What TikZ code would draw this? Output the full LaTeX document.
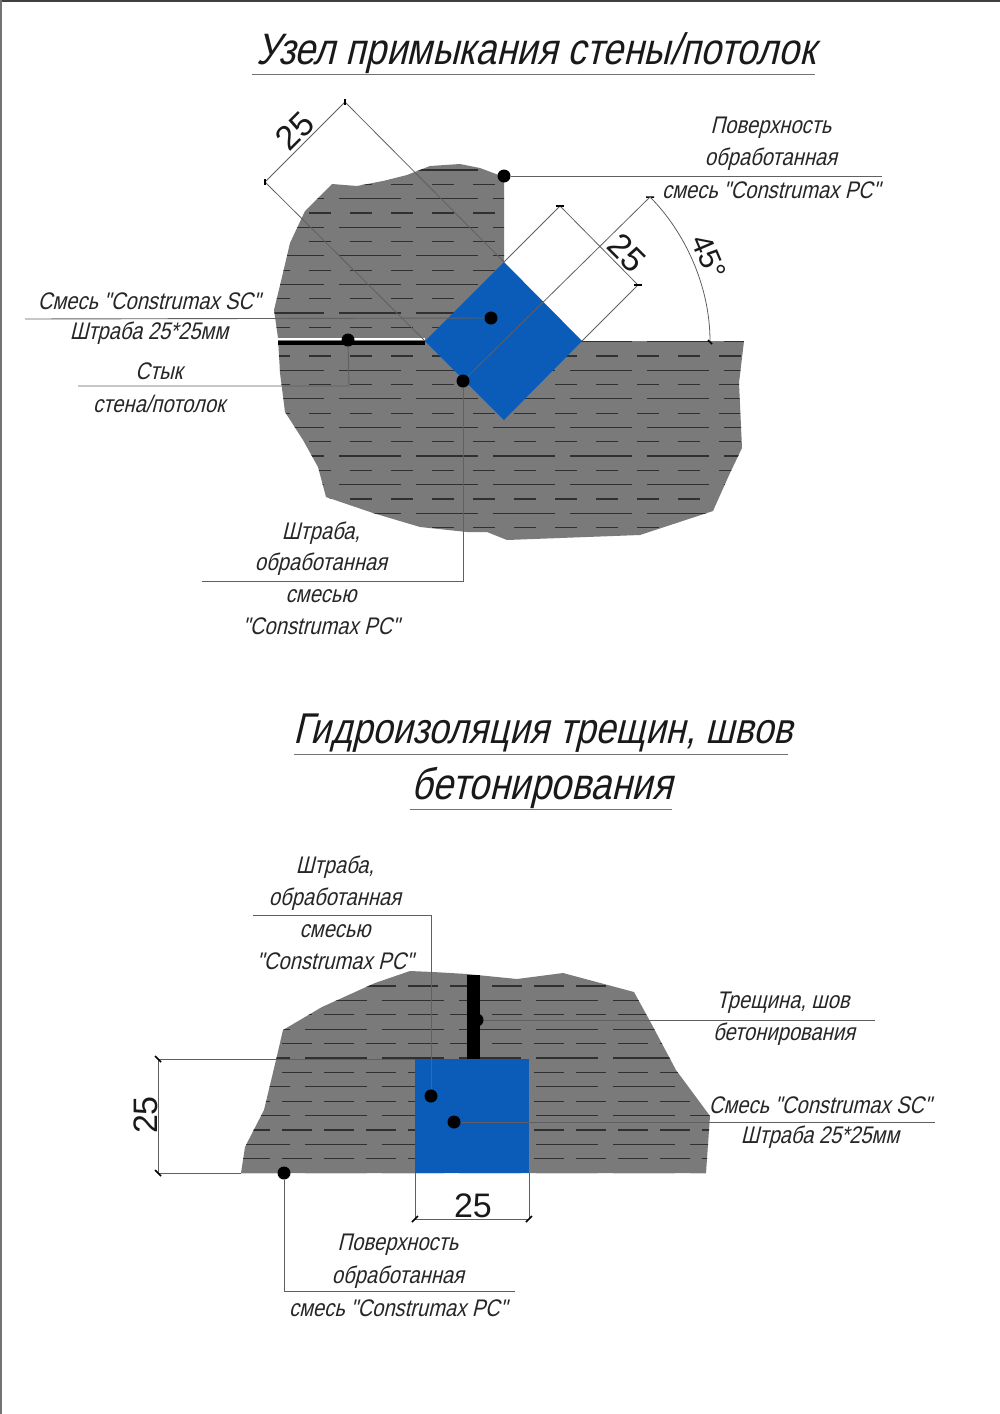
\documentclass[tikz,border=0pt]{standalone}
\usepackage{fontspec}
\newfontfamily\dr[FakeStretch=0.84,FakeSlant=0.24]{Liberation Sans}
\newfontfamily\dimfont{Liberation Sans}
\definecolor{concrete}{HTML}{7A7A7A}
\definecolor{fillblue}{HTML}{0A5CB8}
\definecolor{hatch}{HTML}{303030}
\definecolor{lead}{HTML}{606060}
\tikzset{
  lbl/.style={inner sep=0pt,font=\dr\fontsize{24}{24}\selectfont,text=black!85},
  ttl/.style={inner sep=0pt,font=\dr\fontsize{44}{44}\selectfont,text=black!90},
  dimtxt/.style={inner sep=0pt,font=\dimfont\fontsize{34}{34}\selectfont,text=black!90},
  dot/.style={circle,fill=black,inner sep=0pt,minimum size=13pt},
  leader/.style={draw=lead,line width=0.9pt},
  dimline/.style={draw=lead,line width=0.8pt},
  tick/.style={draw=black,line width=1.5pt},
  rule/.style={draw=black!55,line width=0.8pt},
  longrow/.style={draw=hatch,line width=1.2pt,dash pattern=on 62pt off 15pt},
  shortrow/.style={draw=hatch,line width=1.2pt,dash pattern=on 22pt off 19pt},
}
\begin{document}
\begin{tikzpicture}[x=1pt,y=-1pt]
\useasboundingbox (0,0) rectangle (1000,1414);
\fill[black!75] (0,0) rectangle (1000,2);
\fill[black!55] (0,0) rectangle (2,1414);

%%% ---------- upper detail
\node[ttl] (t1) at (536,53) {Узел примыкания стены/потолок};
\coordinate (t1a) at (252,74); \coordinate (t1b) at (815,74);
\draw[rule] (t1a) -- (t1b);

\def\wallpath{(504,177) -- (480,168) -- (460,164) -- (430,166) -- (407,175) -- (383,181) -- (357,186) -- (332,184) -- (305,211) -- (290,243) -- (282,277) -- (274,310) -- (278,338) -- (280,373) -- (285,412) -- (303,440) -- (318,467) -- (326,497) -- (373,513) -- (420,527) -- (467,532) -- (487,532) -- (507,540) -- (640,535) -- (713,511) -- (730,473) -- (742,448) -- (739,383) -- (744,341) -- (504,341) -- cycle}
\fill[concrete] \wallpath;
\begin{scope}
  \clip \wallpath;
  \foreach \i in {0,2,...,26} \draw[longrow] (262,{170+14.3*\i}) -- (760,{170+14.3*\i});
  \foreach \i in {1,3,...,27} \draw[shortrow] (268,{170+14.3*\i}) -- (760,{170+14.3*\i});
\end{scope}
\fill[white] (278,338) rectangle (425,340);
\draw[black,line width=4.5pt] (278,343) -- (425,343);

\fill[fillblue] (504,262) -- (582,341) -- (504,420) -- (425,341) -- cycle;

% dimension corners
\coordinate (a1) at (345,102); \coordinate (a2) at (265,182);
\coordinate (a3) at (504,262); \coordinate (a4) at (425,341);
\coordinate (b1) at (560,206); \coordinate (b2) at (638,285);
\coordinate (b3) at (582,341);
\coordinate (c1) at (650,197); \coordinate (c2) at (710,341);

\draw[dimline] (a1) -- (a3) (a2) -- (a4) (a1) -- (a2);
\draw[dimline] (b1) -- (a3) (b2) -- (b3) (b1) -- (b2);
\draw[tick] (345,99) -- (345,105) (265,179) -- (265,185);
\draw[tick] (556,206) -- (564,206) (634,285) -- (642,285);
\draw[tick] (646,197) -- (654,197) (708,340) -- (712,344);
\node[dimtxt,rotate=45] (d25a) at (295,131) {25};
\node[dimtxt,rotate=-45] (d25b) at (627,253) {25};
\node[dimtxt,rotate=-67,font=\dimfont\fontsize{30}{30}\selectfont] (d45) at (709,257) {45°};
\draw[dimline] (c1) .. controls (684,231) and (710,285) .. (c2);

% leaders
\node[dot] (p1) at (504,176) {};
\coordinate (p1e) at (882,176);
\draw[leader] (p1) -- (p1e);
\node[lbl] (l1) at (771,128) {Поверхность};
\node[lbl] (l2) at (771,159) {обработанная};
\node[lbl] (l3) at (771,190) {смесь "Construmax PC"};

\node[dot] (p2) at (491,318) {};
\coordinate (p2e) at (25,319);
\draw[leader] (p2) -- (p2e);
\node[lbl] (l4) at (149,301) {Смесь "Construmax SC"};
\node[lbl] (l5) at (149,333) {Штраба 25*25мм};

\node[dot] (p3) at (348,340) {};
\coordinate (p3c) at (349,386); \coordinate (p3e) at (78,386);
\draw[leader] (p3) -- (p3c) -- (p3e);
\node[lbl] (l6) at (159,371) {Стык};
\node[lbl] (l7) at (159,404) {стена/потолок};

\node[dot] (p4) at (463,381) {};
\draw[dimline] (p4) -- (c1);
\coordinate (p4c) at (463,581); \coordinate (p4e) at (202,581);
\draw[leader] (p4) -- (p4c) -- (p4e);
\node[lbl] (l8) at (321,533) {Штраба,};
\node[lbl] (l9) at (321,564) {обработанная};
\node[lbl] (l10) at (321,596) {смесью};
\node[lbl] (l11) at (321,626) {"Construmax PC"};

%%% ---------- lower detail
\node[ttl,font=\dr\fontsize{43}{43}\selectfont] (t2) at (543,733) {Гидроизоляция трещин, швов};
\coordinate (t2a) at (294,754); \coordinate (t2b) at (788,754);
\draw[rule] (t2a) -- (t2b);
\node[ttl] (t3) at (542,788) {бетонирования};
\coordinate (t3a) at (410,809); \coordinate (t3b) at (672,809);
\draw[rule] (t3a) -- (t3b);

\def\slabpath{(410,971) -- (433,972) -- (467,974) -- (517,979) -- (563,973) -- (634,992) -- (651,1023) -- (676,1070) -- (710,1116) -- (706,1173) -- (241,1173) -- (245,1147) -- (264,1110) -- (276,1060) -- (283,1030) -- (322,1007) -- (375,983) -- cycle}
\fill[concrete] \slabpath;
\begin{scope}
  \clip \slabpath;
  \foreach \i in {0,2,...,12} \draw[shortrow,dash pattern=on 30pt off 12pt] (240,{986+14.4*\i}) -- (720,{986+14.4*\i});
  \foreach \i in {1,3,...,13} \draw[longrow] (228,{986+14.4*\i}) -- (720,{986+14.4*\i});
\end{scope}
\fill[fillblue] (415,1059) rectangle (529,1173);

% dimensions
\coordinate (e1) at (158,1059); \coordinate (e2) at (158,1173);
\coordinate (e3) at (415,1059); \coordinate (e4) at (241,1173);
\coordinate (f1) at (415,1219); \coordinate (f2) at (529,1219);
\coordinate (f3) at (415,1173); \coordinate (f4) at (529,1173);
\draw[dimline] (e1) -- (e3) (e2) -- (e4) (e1) -- (e2);
\draw[dimline] (f3) -- (f1) (f4) -- (f2) (f1) -- (f2);
\draw[tick] (155,1056) -- (161,1062) (155,1170) -- (161,1176);
\draw[tick] (412,1222) -- (418,1216) (526,1222) -- (532,1216);
\node[dimtxt,rotate=90] (d25c) at (146,1115) {25};
\node[dimtxt] (d25d) at (473,1206) {25};

% leaders
\node[dot] (q1) at (431,1096) {};
\coordinate (q1c) at (431,915); \coordinate (q1e) at (253,915);
\draw[leader] (q1) -- (q1c) -- (q1e);
\node[lbl] (m1) at (335,867) {Штраба,};
\node[lbl] (m2) at (335,899) {обработанная};
\node[lbl] (m3) at (335,931) {смесью};
\node[lbl] (m4) at (335,961) {"Construmax PC"};

\node[dot] (q2) at (477,1020) {};
\coordinate (q2e) at (875,1020);
\draw[leader] (q2) -- (q2e);
\fill[black] (467,975) rectangle (480,1059);
\node[lbl] (m5) at (783,1003) {Трещина, шов};
\node[lbl] (m6) at (784,1034) {бетонирования};

\node[dot] (q3) at (454,1122) {};
\coordinate (q3e) at (935,1122);
\draw[leader] (q3) -- (q3e);
\node[lbl] (m7) at (820,1105) {Смесь "Construmax SC"};
\node[lbl] (m8) at (820,1137) {Штраба 25*25мм};

\node[dot] (q4) at (284,1173) {};
\coordinate (q4c) at (284,1291); \coordinate (q4e) at (515,1291);
\draw[leader] (q4) -- (q4c) -- (q4e);
\node[lbl] (m9) at (398,1245) {Поверхность};
\node[lbl] (m10) at (398,1277) {обработанная};
\node[lbl] (m11) at (398,1308) {смесь "Construmax PC"};
\end{tikzpicture}
\end{document}
